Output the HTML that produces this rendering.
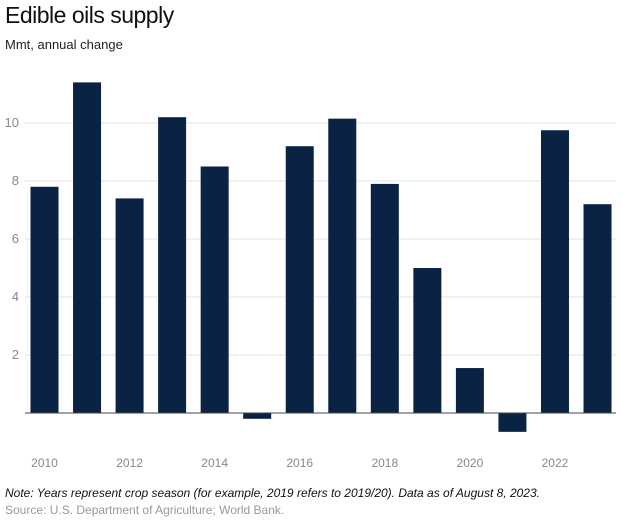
<!DOCTYPE html>
<html><head><meta charset="utf-8">
<style>
body{margin:0;background:#fff;font-family:"Liberation Sans",Arial,sans-serif;}
#wrap{position:relative;width:623px;height:522px;overflow:hidden;}
.t{position:absolute;white-space:nowrap;}
</style></head>
<body>
<div id="wrap">
<div class="t" style="left:5px;top:2px;font-size:23px;color:#111;letter-spacing:-0.5px;">Edible oils supply</div>
<div class="t" style="left:5px;top:37px;font-size:13px;color:#222;">Mmt, annual change</div>
<svg id="chart" width="623" height="522" style="position:absolute;left:0;top:0;"></svg>
<div class="t" style="left:5px;top:486px;font-size:12px;font-style:italic;color:#111;">Note: Years represent crop season (for example, 2019 refers to 2019/20). Data as of August 8, 2023.</div>
<div class="t" style="left:5px;top:503px;font-size:12px;color:#999;">Source: U.S. Department of Agriculture; World Bank.</div>
</div>
<script>
const years=[2010,2011,2012,2013,2014,2015,2016,2017,2018,2019,2020,2021,2022,2023];
const values=[7.8,11.4,7.4,10.2,8.5,-0.2,9.2,10.15,7.9,5.0,1.55,-0.65,9.75,7.2];
const yTicks=[2,4,6,8,10];
const xTickLabels=[2010,2012,2014,2016,2018,2020,2022];
const svg=document.getElementById('chart');
const NS='http://www.w3.org/2000/svg';
const y0=413, pxPerUnit=29;
function y(v){return y0-v*pxPerUnit;}
function x(yr){return 44.5+(yr-2010)*42.54;}
const barW=28;
function mk(tag,attrs){const e=document.createElementNS(NS,tag);for(const k in attrs)e.setAttribute(k,attrs[k]);svg.appendChild(e);return e;}
yTicks.forEach(v=>{
  const g=mk('line',{x1:25,x2:616,y1:y(v),y2:y(v),stroke:'#e3e3e3','stroke-width':1});
  
  
  const t=mk('text',{x:19,y:y(v)+4,'text-anchor':'end','font-size':13,fill:'#888','font-family':'Liberation Sans, sans-serif'});
  t.textContent=v;
  
  
});
years.forEach((yr,i)=>{
  const v=values[i];
  const top=Math.min(y(v),y0), h=Math.abs(y(v)-y0);
  const r=mk('rect',{x:x(yr)-barW/2,y:top,width:barW,height:h,fill:'#0a2244'});
  
  
});
const ax=mk('line',{x1:25,x2:616,y1:y0,y2:y0,stroke:'#444','stroke-width':1});


xTickLabels.forEach(yr=>{
  const t=mk('text',{x:x(yr),y:467,'text-anchor':'middle','font-size':12,fill:'#888','font-family':'Liberation Sans, sans-serif'});
  t.textContent=yr;
  
  
});
</script>
</body></html>
